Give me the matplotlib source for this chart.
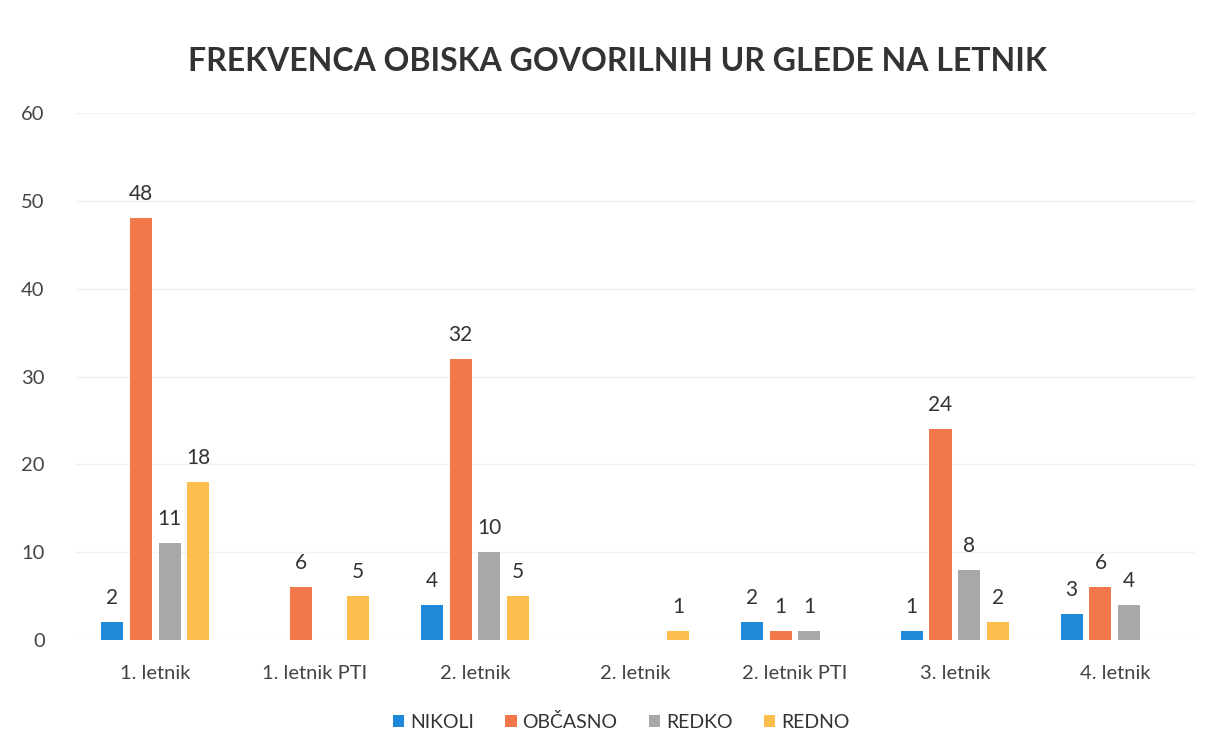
import numpy as np
import matplotlib.pyplot as plt

# data (None = no bar)
letniki = ['1. letnik', '1. letnik PTI', '2. letnik', '2. letnik',
           '2. letnik PTI', '3. letnik', '4. letnik']
nikoli = [2, None, 4, None, 2, 1, 3]
obcasno = [48, 6, 32, None, 1, 24, 6]
redko = [11, None, 10, None, 1, 8, 4]
redno = [18, 5, 5, 1, None, 2, None]

series = [('NIKOLI', nikoli, '#1F88D8'),
          ('OBČASNO', obcasno, '#F2784B'),
          ('REDKO', redko, '#A8A8A8'),
          ('REDNO', redno, '#FDBE4E')]

plt.rcParams['font.family'] = ['Lato', 'DejaVu Sans']

fig = plt.figure(figsize=(12.13, 7.56), dpi=100)
ax = fig.add_axes([0.062, 0.1534, 0.923, 0.697])

x = np.arange(len(letniki))
step = 0.18
width = 0.138
for i, (name, vals, col) in enumerate(series):
    v = np.array([np.nan if a is None else a for a in vals], dtype=float)
    pos = x + (i - 1.5) * step
    ax.bar(pos, v, width, color=col, label=name, zorder=2)
    for p, val in zip(pos, v):
        if not np.isnan(val):
            ax.text(p, val + 1.6, f'{int(val)}', ha='center', va='bottom',
                    fontsize=15, color='#333333')

ax.set_xlim(-0.5, len(letniki) - 0.5)
ax.set_ylim(0, 60)
ax.set_yticks(range(0, 61, 10))
ax.set_xticks(x)
ax.set_xticklabels(letniki)
ax.tick_params(axis='both', length=0, labelsize=14.5, colors='#444444')
ax.tick_params(axis='x', pad=18)
ax.tick_params(axis='y', pad=22)
ax.grid(axis='y', color='#F2F2F2', linewidth=1, zorder=0)
for s in ax.spines.values():
    s.set_visible(False)

fig.suptitle('FREKVENCA OBISKA GOVORILNIH UR GLEDE NA LETNIK', x=0.509, y=0.918,
             va='center', fontsize=23, fontweight='bold', color='#333333')

fig.legend(loc='center', bbox_to_anchor=(0.512, 0.045), ncol=4, frameon=False,
           fontsize=14, handlelength=0.6, handleheight=0.6, handletextpad=0.3,
           columnspacing=1.6, labelcolor='#333333')

fig.savefig('out.png', dpi=100)
